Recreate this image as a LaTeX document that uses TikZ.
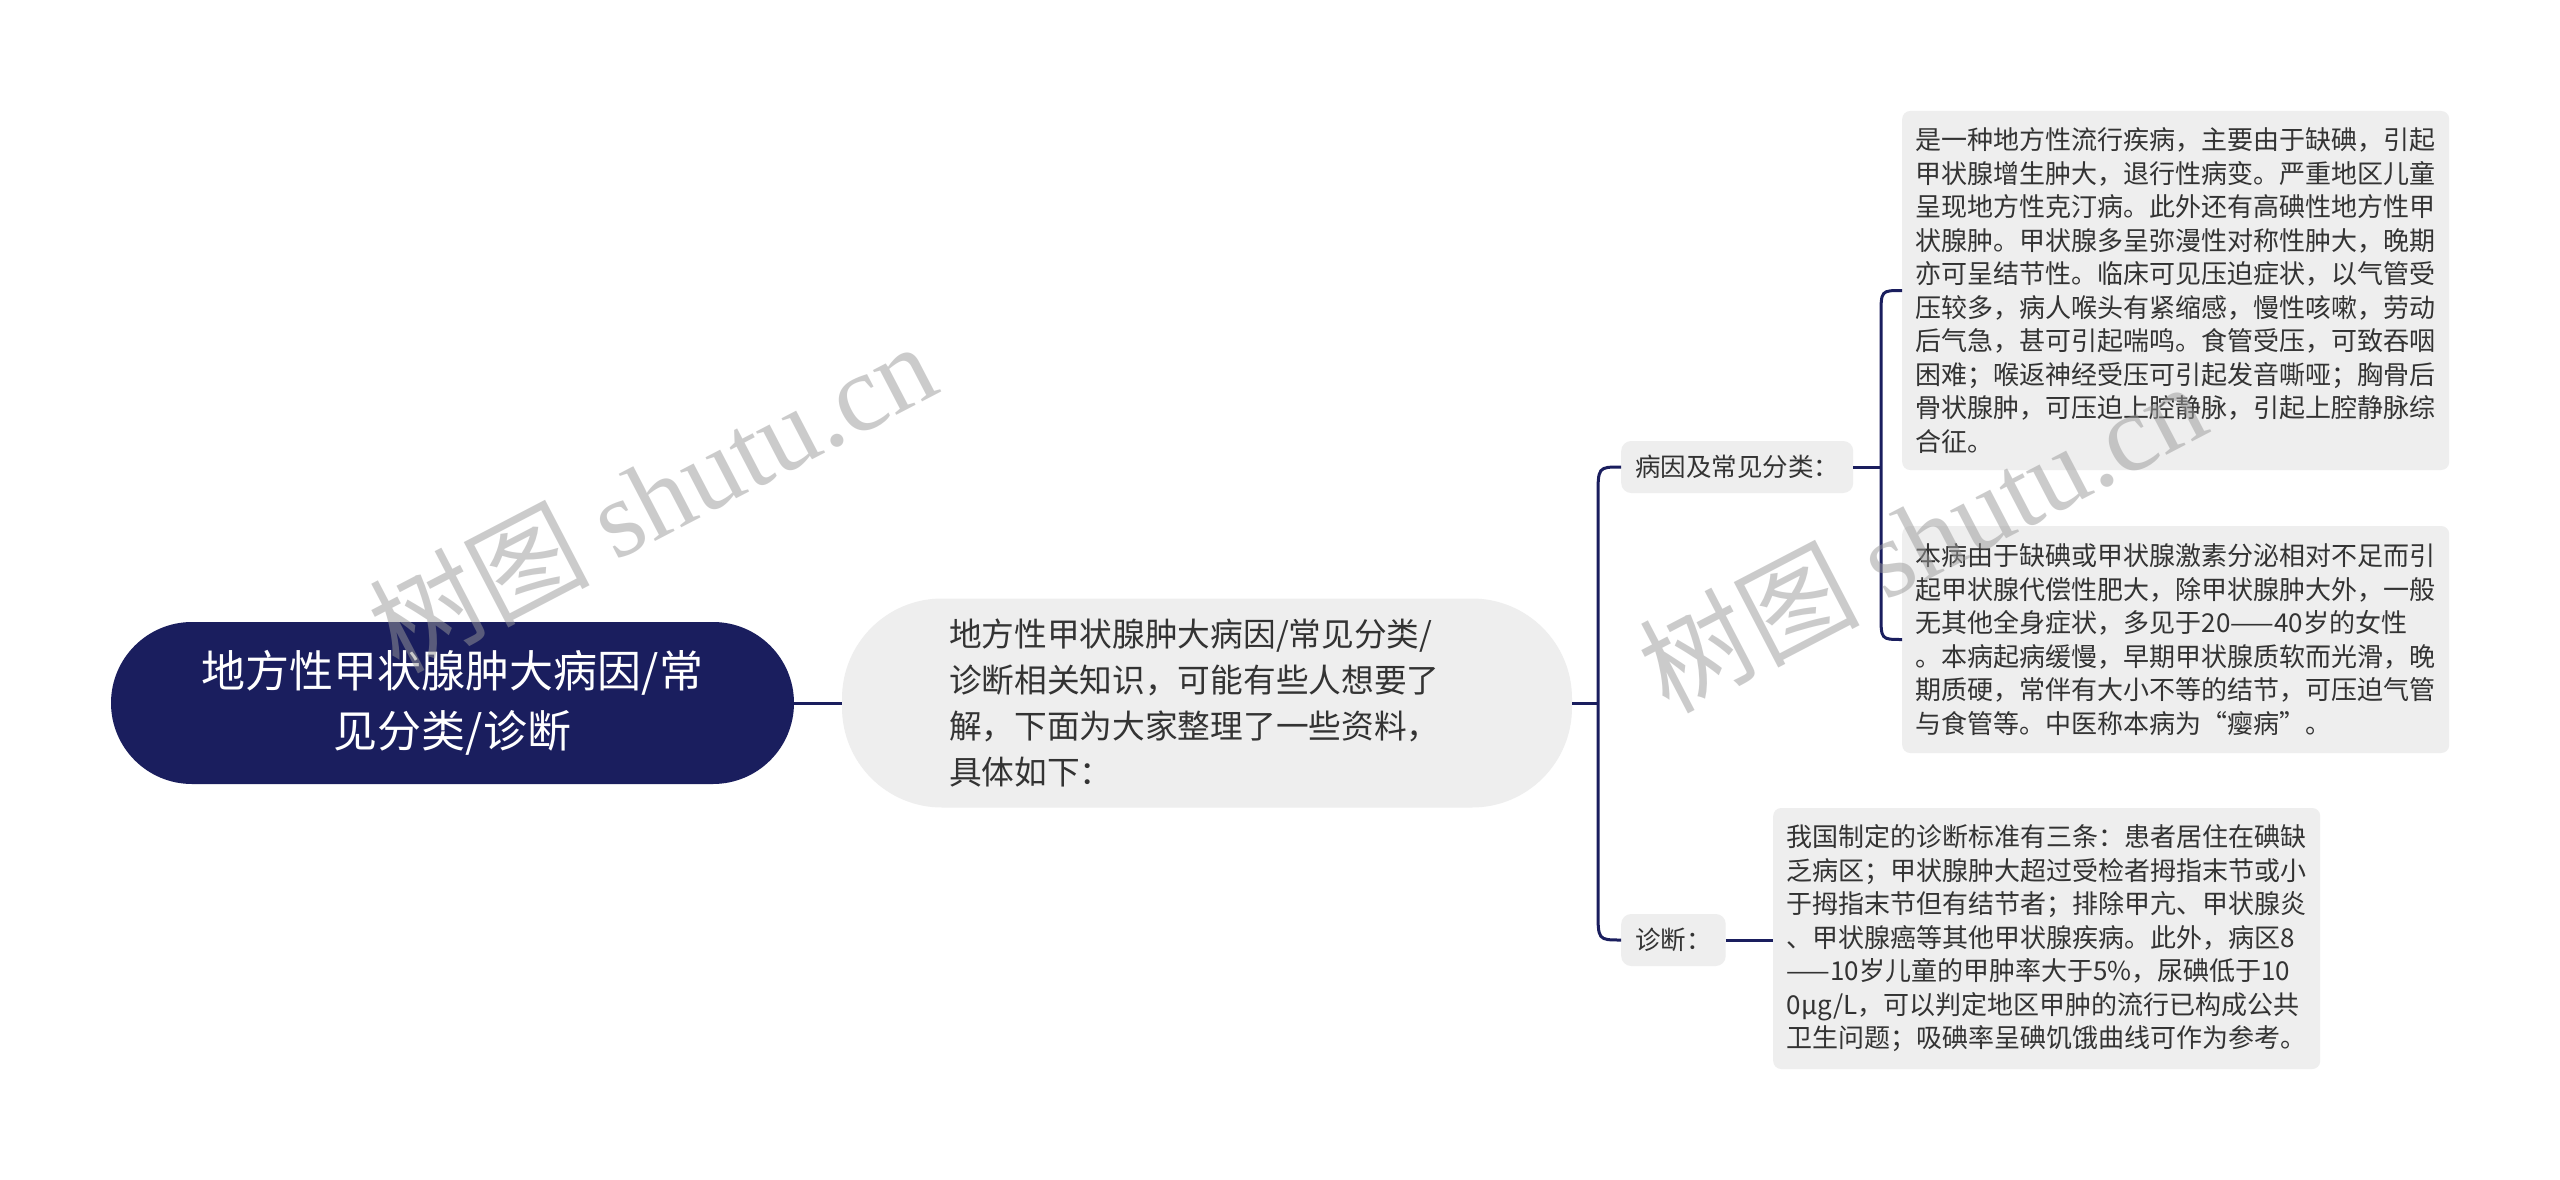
\documentclass[tikz,border=0pt]{standalone}
\usepackage{fontspec}
\setmainfont{Noto Sans CJK SC}
\newfontfamily\wmserif{Liberation Serif}
\usetikzlibrary{calc}
\definecolor{navy}{HTML}{1A1E5E}
\definecolor{boxgray}{HTML}{EEEEEE}
\definecolor{txt}{HTML}{333333}
\begin{document}
\begin{tikzpicture}[x=1pt,y=-1pt,
  conn/.style={draw=navy,line width=3pt},
  rootnode/.style={fill=navy,text=white,rounded corners=81pt,minimum width=683pt,minimum height=162pt,align=center,font=\fontsize{44}{60}\selectfont,inner sep=0pt},
  subnode/.style={fill=boxgray,text=txt,rounded corners=100pt,minimum width=730pt,minimum height=209pt,text width=516pt,inner xsep=107pt,inner ysep=0pt,align=left,font=\fontsize{32.7}{46}\selectfont},
  lblnode/.style={fill=boxgray,text=txt,rounded corners=10pt,minimum height=52pt,inner xsep=14pt,font=\fontsize{25.5}{30}\selectfont},
  textbox/.style={fill=boxgray,text=txt,rounded corners=8pt,text width=520pt,inner xsep=13.5pt,inner ysep=0pt,align=left,font=\fontsize{26}{33.5}\selectfont},
  wm/.style={text=black!40,text opacity=0.5,rotate=27.5,font=\fontsize{110}{110}\selectfont}
]
\fill[white] (0,0) rectangle (2560,1180);
\useasboundingbox (0,0) rectangle (2560,1180);

\node[rootnode] (root) at (452.5,703) {地方性甲状腺肿大病因/常\\见分类/诊断};
\node[subnode] (sub) at (1207,703) {地方性甲状腺肿大病因/常见分类/\\诊断相关知识，可能有些人想要了\\解，下面为大家整理了一些资料，\\具体如下：};
\node[lblnode,anchor=west] (l1) at (1621,467) {病因及常见分类：};
\node[lblnode,anchor=west] (l2) at (1621,940) {诊断：};
\node[textbox,minimum height=359pt,anchor=west] (t1) at (1902,290.5) {是一种地方性流行疾病，主要由于缺碘，引起\\甲状腺增生肿大，退行性病变。严重地区儿童\\呈现地方性克汀病。此外还有高碘性地方性甲\\状腺肿。甲状腺多呈弥漫性对称性肿大，晚期\\亦可呈结节性。临床可见压迫症状，以气管受\\压较多，病人喉头有紧缩感，慢性咳嗽，劳动\\后气急，甚可引起喘鸣。食管受压，可致吞咽\\困难；喉返神经受压可引起发音嘶哑；胸骨后\\骨状腺肿，可压迫上腔静脉，引起上腔静脉综\\合征。};
\node[textbox,minimum height=227pt,anchor=west] (t2) at (1902,639.5) {本病由于缺碘或甲状腺激素分泌相对不足而引\\起甲状腺代偿性肥大，除甲状腺肿大外，一般\\无其他全身症状，多见于20——40岁的女性\\。本病起病缓慢，早期甲状腺质软而光滑，晚\\期质硬，常伴有大小不等的结节，可压迫气管\\与食管等。中医称本病为“瘿病”。};
\node[textbox,minimum height=261pt,anchor=west] (t3) at (1773,938.5) {我国制定的诊断标准有三条：患者居住在碘缺\\乏病区；甲状腺肿大超过受检者拇指末节或小\\于拇指末节但有结节者；排除甲亢、甲状腺炎\\、甲状腺癌等其他甲状腺疾病。此外，病区8\\——10岁儿童的甲肿率大于5\%，尿碘低于10\\0μg/L，可以判定地区甲肿的流行已构成公共\\卫生问题；吸碘率呈碘饥饿曲线可作为参考。};

\coordinate (b1) at (1598,703);
\coordinate (b2) at (1881,467);

\draw[conn] (root.east) -- (sub.west);
\draw[conn] (sub.east) -- (b1);
\draw[conn] (l1.west) .. controls (l1.west -| b1) .. ($(l1.west -| b1)+(0,30)$) -- ($(l2.west -| b1)+(0,-30)$) .. controls (l2.west -| b1) .. (l2.west);
\draw[conn] (l1.east) -- (b2);
\draw[conn] (t1.west) .. controls (t1.west -| b2) .. ($(t1.west -| b2)+(0,25)$) -- ($(t2.west -| b2)+(0,-25)$) .. controls (t2.west -| b2) .. (t2.west);
\draw[conn] (l2.east) -- (l2.east -| t3.west);

\node[wm] (wm1) at (652,496) {树图 {\wmserif shutu.cn}};
\node[wm] (wm2) at (1922,536) {树图 {\wmserif shutu.cn}};
\end{tikzpicture}
\end{document}
